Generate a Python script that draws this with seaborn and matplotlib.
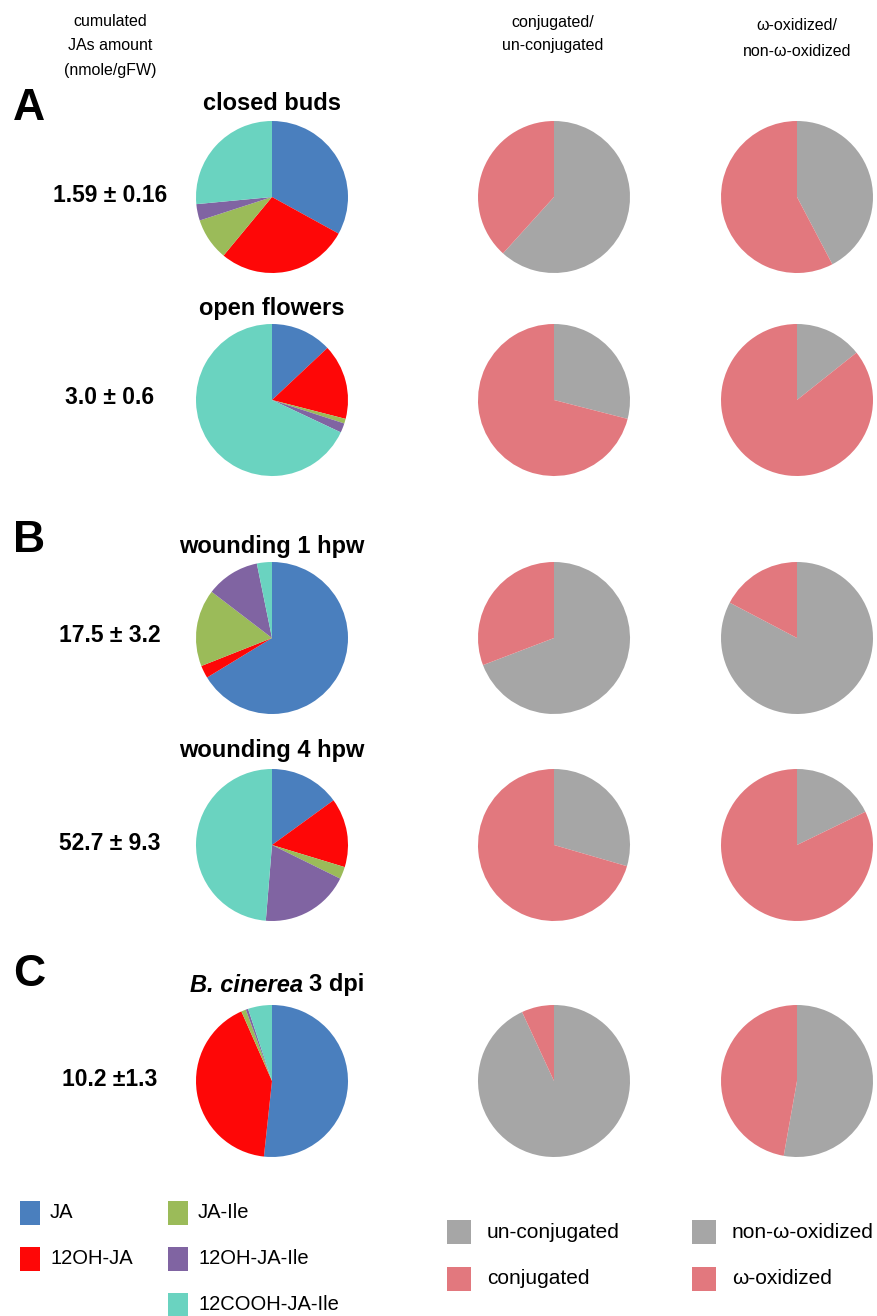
import matplotlib
matplotlib.use("Agg")
import matplotlib.pyplot as plt
import seaborn as sns
from matplotlib.patches import Rectangle

# ---------------------------------------------------------------
# data (percent of total, clockwise from 12 o'clock)
# ---------------------------------------------------------------
jas_names = ["JA", "12OH-JA", "JA-Ile", "12OH-JA-Ile", "12COOH-JA-Ile"]
jas_colors = ["#4A7FBE", "#FE0707", "#9BBB59", "#8064A2", "#6AD3C0"]

row_titles = ["closed buds", "open flowers", "wounding 1 hpw",
              "wounding 4 hpw", None]
totals = ["1.59 ± 0.16", "3.0 ± 0.6", "17.5 ± 3.2", "52.7 ± 9.3", "10.2 ±1.3"]

closed_buds = [33.0, 28.0, 9.0, 3.5, 26.5]
open_flowers = [13.0, 16.0, 1.0, 2.0, 68.0]
wound_1hpw = [66.3, 2.7, 16.4, 11.4, 3.2]
wound_4hpw = [15.0, 14.7, 2.6, 19.0, 48.7]
b_cinerea = [51.7, 41.7, 1.0, 0.5, 5.1]
jas_rows = [closed_buds, open_flowers, wound_1hpw, wound_4hpw, b_cinerea]

# share of un-conjugated / non-omega-oxidized (rest is conjugated / omega-oxidized)
unconjugated = [61.7, 29.0, 69.2, 29.5, 93.1]
non_oxidized = [42.3, 14.3, 82.7, 17.8, 52.8]

grey = "#A6A6A6"
pink = "#E2787E"

# ---------------------------------------------------------------
W, H = 877, 1316
sns.set_theme(style="white")
plt.rcParams["font.family"] = ["Liberation Sans", "DejaVu Sans"]
plt.rcParams["text.color"] = "black"

fig = plt.figure(figsize=(W / 100, H / 100), dpi=100)
fig.patch.set_facecolor("white")


def fx(x):
    return x / W


def fy(y):
    return 1 - y / H


def pie_at(cx, cy, values, colors, r=76):
    ax = fig.add_axes([fx(cx - r), fy(cy + r), 2 * r / W, 2 * r / H])
    ax.pie(values, colors=colors, startangle=90, counterclock=False,
           wedgeprops=dict(linewidth=0))
    ax.set_xlim(-1.0, 1.0)
    ax.set_ylim(-1.0, 1.0)
    ax.set_aspect("equal")
    ax.axis("off")
    return ax


row_y = [197, 400, 638, 845, 1081]
title_y = [104, 309, 546, 750, 985]
col_x = [272, 554, 797]

# headers
fig.text(fx(110), fy(46), "cumulated\nJAs amount\n(nmole/gFW)", ha="center",
         va="center", fontsize=11.5, linespacing=1.75)
fig.text(fx(553), fy(34), "conjugated/\nun-conjugated", ha="center",
         va="center", fontsize=11.5, linespacing=1.6)
fig.text(fx(797), fy(25), "ω-oxidized/", ha="center", va="center", fontsize=11.5)
fig.text(fx(797), fy(52), "non-ω-oxidized", ha="center", va="center", fontsize=11.5)

# panel letters
for letter, y in zip(["A", "B", "C"], [108, 540, 975]):
    fig.text(fx(29), fy(y), letter, ha="center", va="center",
             fontsize=32, fontweight="bold")

for i in range(5):
    if row_titles[i] is not None:
        fig.text(fx(col_x[0]), fy(title_y[i]), row_titles[i], ha="center",
                 va="center", fontsize=17, fontweight="bold")
    fig.text(fx(110), fy(row_y[i] - 2), totals[i], ha="center", va="center",
             fontsize=16.5, fontweight="bold")
    pie_at(col_x[0], row_y[i], jas_rows[i], jas_colors)
    pie_at(col_x[1], row_y[i], [unconjugated[i], 100 - unconjugated[i]],
           [grey, pink])
    pie_at(col_x[2], row_y[i], [non_oxidized[i], 100 - non_oxidized[i]],
           [grey, pink])

# last title: italic species name + plain bold rest
fig.text(fx(303), fy(title_y[4]), "B. cinerea", ha="right", va="center",
         fontsize=17, fontweight="bold", fontstyle="italic")
fig.text(fx(309), fy(title_y[4]), "3 dpi", ha="left", va="center",
         fontsize=17, fontweight="bold")


# legends (manual, to keep the original arrangement)
def legend_item(x, y, label, color, w=20, h=24, gap=12, size=14.5):
    fig.patches.append(Rectangle((fx(x), fy(y + h / 2)), w / W, h / H,
                                 transform=fig.transFigure, facecolor=color,
                                 edgecolor="none"))
    fig.text(fx(x + w + gap), fy(y), label, ha="left", va="center", fontsize=size)


legend_pos = [(20, 1213), (20, 1259), (168, 1213), (168, 1259), (168, 1305)]
for (x, y), name, c in zip(legend_pos, jas_names, jas_colors):
    legend_item(x, y, name, c, gap=10)

legend_item(447, 1232, "un-conjugated", grey, w=24, gap=16, size=15)
legend_item(447, 1279, "conjugated", pink, w=24, gap=16, size=15)
legend_item(692, 1232, "non-ω-oxidized", grey, w=24, gap=16, size=15)
legend_item(692, 1279, "ω-oxidized", pink, w=24, gap=16, size=15)

fig.savefig("out.png", dpi=100, facecolor="white")
